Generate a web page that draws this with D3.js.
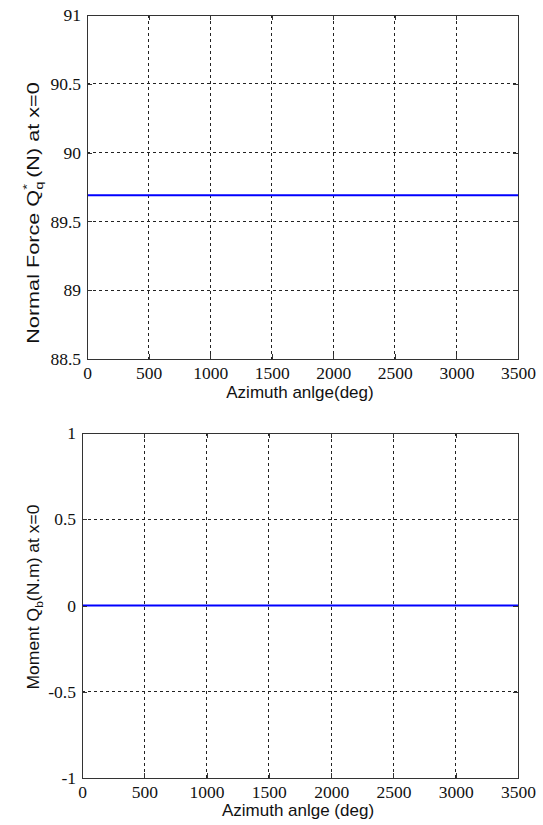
<!DOCTYPE html>
<html><head><meta charset="utf-8">
<script src="https://cdn.jsdelivr.net/npm/d3@7/dist/d3.min.js"></script>
<style>body{margin:0;background:#fff;} svg{display:block;}
.tick text{font-family:"Liberation Serif","Tinos","DejaVu Serif",serif !important;}
</style>
</head><body>
<script>
const xTicks = [0, 500, 1000, 1500, 2000, 2500, 3000, 3500];
const azimuth = [0, 3500];
const normalForce = [89.69, 89.69];
const normalTicks = [88.5, 89, 89.5, 90, 90.5, 91];
const moment = [0, 0];
const momentTicks = [-1, -0.5, 0, 0.5, 1];

const svg = d3.select("body").append("svg").attr("width", 543).attr("height", 825);
const SERIF = '"Liberation Serif", "Tinos", "DejaVu Serif", serif';
const SANS = '"Liberation Sans", Arial, sans-serif';

function panel(o) {
  const x = d3.scaleLinear().domain([0, 3500]).range([o.left, o.right]);
  const y = d3.scaleLinear().domain(o.ydom).range([o.bottom, o.top]);
  const g = svg.append("g");
  g.selectAll(".gx").data(xTicks.slice(1, -1)).enter().append("line")
    .attr("x1", d => x(d)).attr("x2", d => x(d)).attr("y1", o.top).attr("y2", o.bottom)
    .attr("stroke", "#222").attr("stroke-width", 1).attr("stroke-dasharray", "3,3").attr("shape-rendering", "crispEdges");
  g.selectAll(".gy").data(o.yticks.slice(1, -1)).enter().append("line")
    .attr("y1", d => y(d)).attr("y2", d => y(d)).attr("x1", o.left).attr("x2", o.right)
    .attr("stroke", "#222").attr("stroke-width", 1).attr("stroke-dasharray", "3,3").attr("shape-rendering", "crispEdges");
  const line = d3.line().x((d, i) => x(azimuth[i])).y(d => y(d));
  g.append("path").datum(o.values).attr("d", line).attr("fill", "none").attr("stroke", "#0000ff").attr("stroke-width", 2);
  const fmt = d => String(d);
  const axB = d3.axisBottom(x).tickValues(xTicks).tickSize(-5).tickPadding(8).tickFormat(fmt);
  const axT = d3.axisTop(x).tickValues(xTicks).tickSize(-5).tickFormat("");
  const axL = d3.axisLeft(y).tickValues(o.yticks).tickSize(-5).tickPadding(6).tickFormat(fmt);
  const axR = d3.axisRight(y).tickValues(o.yticks).tickSize(-5).tickFormat("");
  const styleAx = sel => {
    sel.attr("font-family", null).attr("font-size", null);
    sel.selectAll("path,line").attr("stroke", "#333").attr("shape-rendering", "crispEdges");
    sel.selectAll("text").attr("font-family", SERIF).attr("font-size", 17.5).attr("fill", "#111");
  };
  g.append("g").attr("transform", `translate(0,${o.bottom})`).call(axB).call(styleAx);
  g.append("g").attr("transform", `translate(0,${o.top})`).call(axT).call(styleAx);
  g.append("g").attr("transform", `translate(${o.left},0)`).call(axL).call(styleAx);
  g.append("g").attr("transform", `translate(${o.right},0)`).call(axR).call(styleAx);
  g.selectAll(".domain").attr("fill", "none");
  g.append("text").attr("x", o.xlabX).attr("y", o.xlabY).attr("text-anchor", "middle")
    .attr("font-family", SANS).attr("font-size", 17).attr("fill", "#111").text(o.xlabel);
  const yl = g.append("text").attr("text-anchor", "middle")
    .attr("font-family", SANS).attr("font-size", 16).attr("fill", "#111");
  o.ylabel(yl);
  const len = yl.node().getComputedTextLength() || o.ylabLen;
  const sx = o.ylabLen / len;
  yl.attr("transform", `translate(39,${o.ylabY}) rotate(-90) scale(${sx},1)`);
}

panel({
  left: 87, right: 518, top: 15, bottom: 359, ydom: [88.5, 91], yticks: normalTicks, values: normalForce,
  xlabel: "Azimuth anlge(deg)", xlabX: 300, xlabY: 398, ylabY: 213, ylabLen: 270,
  ylabel: t => {
    t.append("tspan").text("Normal Force Q");
    t.append("tspan").attr("font-size", 11).attr("dy", 4).text("q");
    t.append("tspan").attr("font-size", 11).attr("dx", -6).attr("dy", -12).text("*");
    t.append("tspan").attr("dy", 8).text(" (N) at x=0");
  }
});
panel({
  left: 82, right: 518, top: 433, bottom: 778, ydom: [-1, 1], yticks: momentTicks, values: moment,
  xlabel: "Azimuth anlge (deg)", xlabX: 298, xlabY: 816, ylabY: 597, ylabLen: 185,
  ylabel: t => {
    t.append("tspan").text("Moment Q");
    t.append("tspan").attr("font-size", 11).attr("dy", 4).text("b");
    t.append("tspan").attr("dy", -4).text("(N.m) at x=0");
  }
});
</script>
</body></html>
